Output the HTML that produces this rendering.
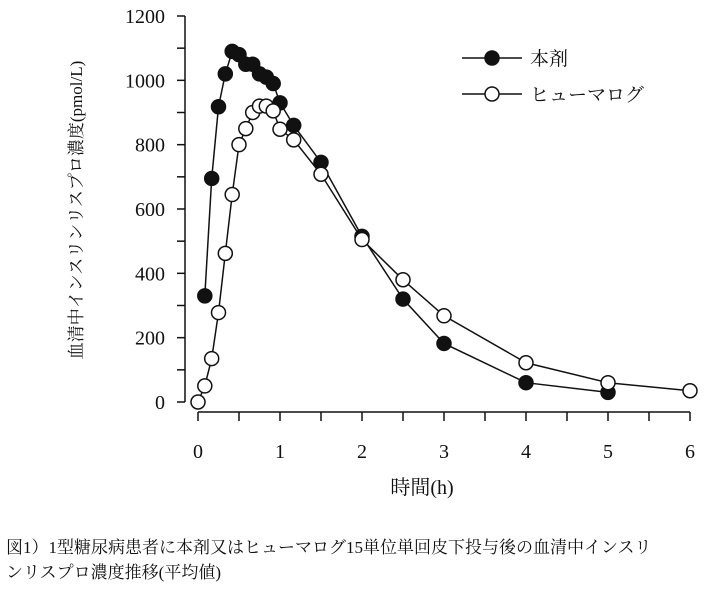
<!DOCTYPE html>
<html><head><meta charset="utf-8"><style>
body{margin:0;background:#fff;width:711px;height:584px;overflow:hidden}
svg text{font-family:"Liberation Serif","Noto Serif CJK SC",serif;fill:#111}
</style></head><body>
<svg id="c" width="711" height="584">
<g id="axes"></g>
<g id="marks"></g>
<text x="422" y="494" font-size="20" text-anchor="middle">時間(h)</text>
<text transform="translate(82,210) rotate(-90)" font-size="17" text-anchor="middle">血清中インスリンリスプロ濃度(pmol/L)</text>
<g>
<line x1="462" y1="58" x2="522" y2="58" stroke="#111" stroke-width="1.5"/><circle cx="492" cy="58" r="7" fill="#111" stroke="#111" stroke-width="1.5"/>
<text x="530" y="65" font-size="19">本剤</text>
<line x1="462" y1="94" x2="522" y2="94" stroke="#111" stroke-width="1.5"/><circle cx="492" cy="94" r="7" fill="#fff" stroke="#111" stroke-width="1.5"/>
<text x="530" y="101" font-size="19">ヒューマログ</text>
</g>
<text x="6" y="553" font-size="17">図1）1型糖尿病患者に本剤又はヒューマログ15単位単回皮下投与後の血清中インスリ</text>
<text x="6" y="578" font-size="17">ンリスプロ濃度推移(平均値)</text>
</svg>
<script>
const timesA=[0.083,0.167,0.25,0.333,0.417,0.5,0.583,0.667,0.75,0.833,0.917,1.0,1.167,1.5,2,2.5,3,4,5];
const valuesA=[330,695,918,1020,1090,1080,1050,1050,1020,1010,990,930,860,745,515,320,182,60,30];
const timesB=[0,0.083,0.167,0.25,0.333,0.417,0.5,0.583,0.667,0.75,0.833,0.917,1.0,1.167,1.5,2,2.5,3,4,5,6];
const valuesB=[0,50,135,278,462,645,800,850,900,920,920,905,848,815,708,505,380,268,122,60,35];
const xTicks=[0,1,2,3,4,5,6];
const yTicks=[0,200,400,600,800,1000,1200];
const NS='http://www.w3.org/2000/svg';
const X=t=>198+t*82, Y=v=>402-v*386/1200;
function mk(tag,at,p){const e=document.createElementNS(NS,tag);for(const k in at)e.setAttribute(k,at[k]);p.appendChild(e);return e;}
const ax=document.getElementById('axes'), mg=document.getElementById('marks');
let e=mk('line',{x1:185,y1:Y(1200),x2:185,y2:Y(0),stroke:'#111','stroke-width':1.5},ax);


e=mk('line',{x1:X(0),y1:412,x2:X(6),y2:412,stroke:'#111','stroke-width':1.5},ax);


for(let v=0;v<=1200;v+=100)mk('line',{x1:177,y1:Y(v),x2:185,y2:Y(v),stroke:'#111','stroke-width':1.5},ax);
for(let t=0;t<=6;t+=0.5)mk('line',{x1:X(t),y1:412,x2:X(t),y2:421,stroke:'#111','stroke-width':1.5},ax);
yTicks.forEach(v=>{const t=mk('text',{x:165,y:Y(v)+7,'font-size':20,'text-anchor':'end'},ax);t.textContent=v;

});
xTicks.forEach(v=>{const t=mk('text',{x:X(v),y:458,'font-size':20,'text-anchor':'middle'},ax);t.textContent=v;

});
function series(ts,vs,fill,name){
 const pl=mk('polyline',{points:ts.map((t,i)=>X(t)+','+Y(vs[i])).join(' '),fill:'none',stroke:'#111','stroke-width':1.5},mg);
 
 
 ts.forEach((t,i)=>{const c=mk('circle',{cx:X(t),cy:Y(vs[i]),r:7,fill:fill,stroke:'#111','stroke-width':1.5},mg);
 
 });
}
series(timesA,valuesA,'#111','honzai');
series(timesB,valuesB,'#fff','humalog');
</script>
</body></html>
